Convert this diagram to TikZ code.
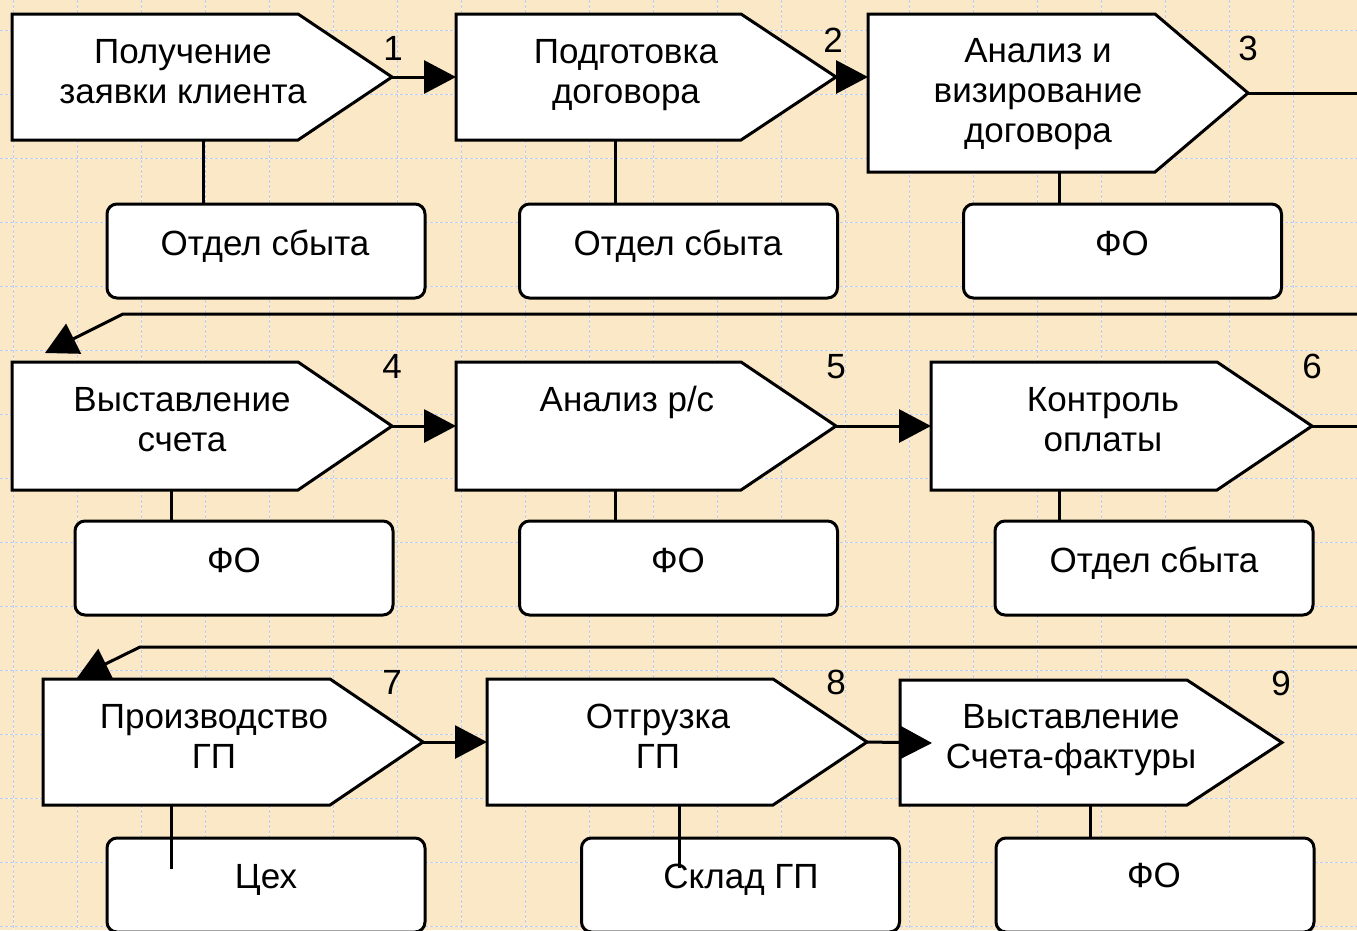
\documentclass[tikz,border=0pt]{standalone}
\usepackage{fontspec}
\setmainfont{Liberation Sans}
\usetikzlibrary{arrows.meta}
\definecolor{bgc}{RGB}{250,232,198}
\definecolor{gridc}{RGB}{190,204,242}
\newcommand\procshape[6]{%
  \path[proc] (#2,#3) -- (#4,#3) -- (#5,{(#3+#6)/2}) -- (#4,#6) -- (#2,#6) -- cycle;
  \coordinate (#1-w) at (#2,{(#3+#6)/2});
  \coordinate (#1-e) at (#5,{(#3+#6)/2});
}
\begin{document}
\begin{tikzpicture}[x=1pt,y=-1pt,
  proc/.style={draw=black,fill=white,line width=3pt,line join=miter},
  res/.style={draw=black,fill=white,line width=3pt,rounded corners=10pt,
    minimum width=318pt,minimum height=94pt,inner sep=0pt,outer sep=0pt},
  lbl/.style={inner sep=0pt,anchor=base,align=center,font=\fontsize{35}{40}\selectfont},
  conn/.style={draw=black,line width=3pt},
  arr/.style={conn,-{Triangle[length=32pt,width=33pt]}},
  gridline/.style={draw=gridc,line width=1pt,dash pattern=on 3pt off 2pt}]
\useasboundingbox (0,0) rectangle (1357,930);
\fill[bgc] (0,0) rectangle (1357,930);
\foreach \x in {13,77,...,1357} \draw[white!60!bgc,line width=1pt] (\x,0) -- (\x,930);
\foreach \y in {30,94,...,930} \draw[white!60!bgc,line width=1pt] (0,\y) -- (1357,\y);
\foreach \x in {13,77,...,1357} \draw[gridline] (\x,0) -- (\x,930);
\foreach \y in {30,94,...,930} \draw[gridline] (0,\y) -- (1357,\y);

% process shapes
\procshape{p1}{12}{14}{298}{392}{140}
\procshape{p2}{456}{14}{741}{836}{140}
\procshape{p3}{868}{14}{1155}{1248}{172}
\procshape{p4}{12}{362}{298}{392}{490}
\procshape{p5}{456}{362}{741}{836}{490}
\procshape{p6}{931}{362}{1217}{1312}{490}
\procshape{p7}{43}{679}{330}{423}{805}
\procshape{p8}{487}{679}{773}{867}{805}
\procshape{p9}{900}{680}{1187}{1282}{805}

% process texts (anchor = baseline of the last line)
\node[lbl] (t1) at (183,103) {Получение\\заявки клиента};
\node[lbl] (t2) at (626,103) {Подготовка\\договора};
\node[lbl] (t3) at (1038,142) {Анализ и\\визирование\\договора};
\node[lbl] (t4) at (182,451) {Выставление\\счета};
\node[lbl] (t5) at (627,411) {Анализ р/с};
\node[lbl] (t6) at (1103,451) {Контроль\\оплаты};
\node[lbl] (t7) at (214,768) {Производство\\ГП};
\node[lbl] (t8) at (658,768) {Отгрузка\\ГП};
\node[lbl] (t9) at (1071,768) {Выставление\\Счета-фактуры};

% numbers
\node[lbl] (n1) at (393,60) {1};
\node[lbl] (n2) at (833,52) {2};
\node[lbl] (n3) at (1248,60) {3};
\node[lbl] (n4) at (392,378) {4};
\node[lbl] (n5) at (836,378) {5};
\node[lbl] (n6) at (1312,378) {6};
\node[lbl] (n7) at (392,694) {7};
\node[lbl] (n8) at (836,694) {8};
\node[lbl] (n9) at (1281,695) {9};

% resource boxes
\node[res] (r1) at (266,251) {};
\node[res] (r2) at (678.5,251) {};
\node[res] (r3) at (1122.5,251) {};
\node[res] (r4) at (234,568) {};
\node[res] (r5) at (678.5,568) {};
\node[res] (r6) at (1154,568) {};
\node[res] (r7) at (266,885) {};
\node[res] (r8) at (740.5,885) {};
\node[res] (r9) at (1155,885) {};

\node[lbl] (rt1) at (265,255) {Отдел сбыта};
\node[lbl] (rt2) at (678,255) {Отдел сбыта};
\node[lbl] (rt3) at (1122,255) {ФО};
\node[lbl] (rt4) at (234,572) {ФО};
\node[lbl] (rt5) at (678,572) {ФО};
\node[lbl] (rt6) at (1154,572) {Отдел сбыта};
\node[lbl] (rt7) at (266,888) {Цех};
\node[lbl] (rt8) at (741,888) {Склад ГП};
\node[lbl] (rt9) at (1154,887) {ФО};

% vertical connectors process -> resource
\coordinate (p1-s) at (203,140);
\coordinate (p2-s) at (615,140);
\coordinate (p3-s) at (1059,172);
\coordinate (p4-s) at (171,490);
\coordinate (p5-s) at (615,490);
\coordinate (p6-s) at (1059,490);
\coordinate (p7-s) at (171,805);
\coordinate (p8-s) at (679,805);
\coordinate (p9-s) at (1090,805);
\draw[conn] (p1-s) -- (p1-s |- r1.north);
\draw[conn] (p2-s) -- (p2-s |- r2.north);
\draw[conn] (p3-s) -- (p3-s |- r3.north);
\draw[conn] (p4-s) -- (p4-s |- r4.north);
\draw[conn] (p5-s) -- (p5-s |- r5.north);
\draw[conn] (p6-s) -- (p6-s |- r6.north);
\coordinate (c7) at (171,869);
\coordinate (c8) at (679,868);
\draw[conn] (p7-s) -- (c7);
\draw[conn] (p8-s) -- (c8);
\draw[conn] (p9-s) -- (p9-s |- r9.north);

% flow arrows
\coordinate (p9-in) at (932,743);
\draw[arr] (p1-e) -- (p2-w);
\draw[arr] (p2-e) -- (p3-w |- p2-e);
\draw[arr] (p4-e) -- (p5-w);
\draw[arr] (p5-e) -- (p6-w);
\draw[arr] (p7-e) -- (p8-w);
\draw[arr] (p8-e) -- (p9-in);

% return lines
\coordinate (e3) at (1357,93);
\coordinate (e3b) at (1357,314);
\coordinate (k3) at (123,314);
\coordinate (h4) at (45,353);
\draw[conn] (p3-e) -- (e3);
\draw[arr] (e3b) -- (k3) -- (h4);
\coordinate (e6) at (1357,426);
\coordinate (e6b) at (1357,647);
\coordinate (k6) at (140,647);
\coordinate (h7) at (77,678);
\draw[conn] (p6-e) -- (e6);
\draw[arr] (e6b) -- (k6) -- (h7);
\end{tikzpicture}
\end{document}
